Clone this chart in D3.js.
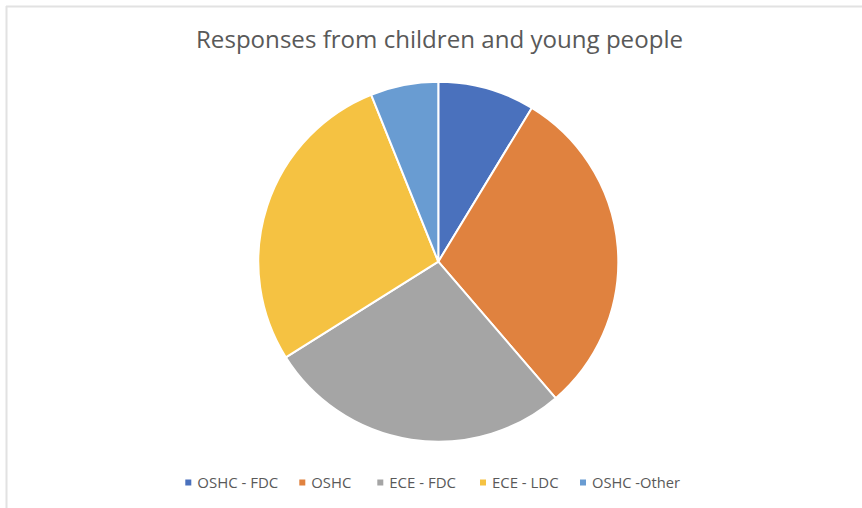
<!DOCTYPE html>
<html>
<head>
<meta charset="utf-8">
<script src="https://cdn.jsdelivr.net/npm/d3@7"></script>
<style>
html,body{margin:0;padding:0;background:#fff;}
svg{display:block;}
</style>
</head>
<body>
<svg id="chart" width="862" height="508"></svg>
<script>
const categories = ["OSHC - FDC", "OSHC", "ECE - FDC", "ECE - LDC", "OSHC -Other"];
const values = [20, 69, 63, 64, 14];
const colors = ["#4A71BD", "#E0823F", "#A5A5A5", "#F5C242", "#699CD2"];
const title = "Responses from children and young people";

const svg = d3.select("#chart");
const W = 862, H = 508;

// frame (left and top edges visible)
svg.append("line").attr("x1", 6.5).attr("x2", 6.5).attr("y1", 6).attr("y2", H)
  .attr("stroke", "#e2e2e2").attr("stroke-width", 2);
svg.append("line").attr("x1", 6).attr("x2", W).attr("y1", 6.5).attr("y2", 6.5)
  .attr("stroke", "#e2e2e2").attr("stroke-width", 2);

svg.append("text")
  .attr("x", 196).attr("y", 47.5)
  .attr("font-family", "'Open Sans', sans-serif")
  .attr("font-size", 24)
  .attr("fill", "#595959")
  .attr("textLength", 487).attr("lengthAdjust", "spacingAndGlyphs")
  .text(title);

const cx = 438.3, cy = 261.7, R = 180;
const pie = d3.pie().sort(null).value(d => d);
const arc = d3.arc().innerRadius(0).outerRadius(R);
const color = d3.scaleOrdinal().domain(categories).range(colors);

const g = svg.append("g").attr("transform", `translate(${cx},${cy})`);
g.selectAll("path").data(pie(values)).join("path")
  .attr("d", arc)
  .attr("fill", (d, i) => color(categories[i]))
  .attr("stroke", "#fff").attr("stroke-width", 2).attr("stroke-linejoin", "round");

// legend
const legendX = d3.scaleOrdinal().domain(categories).range([185.3, 299.3, 377.3, 480, 580]);
const legendW = { "OSHC - FDC": 81, "OSHC": 40, "ECE - FDC": 66.7, "ECE - LDC": 66.6, "OSHC -Other": 88 };
const lg = svg.append("g");
const items = lg.selectAll("g").data(categories).join("g")
  .attr("transform", d => `translate(${legendX(d)},0)`);
items.append("rect").attr("x", 0).attr("y", 479.5).attr("width", 6).attr("height", 6)
  .attr("fill", d => color(d));
items.append("text").attr("x", 12).attr("y", 487.5)
  .attr("font-family", "'Open Sans', sans-serif").attr("font-size", 14)
  .attr("fill", "#595959")
  .attr("textLength", d => legendW[d]).attr("lengthAdjust", "spacingAndGlyphs")
  .text(d => d);
</script>
</body>
</html>
